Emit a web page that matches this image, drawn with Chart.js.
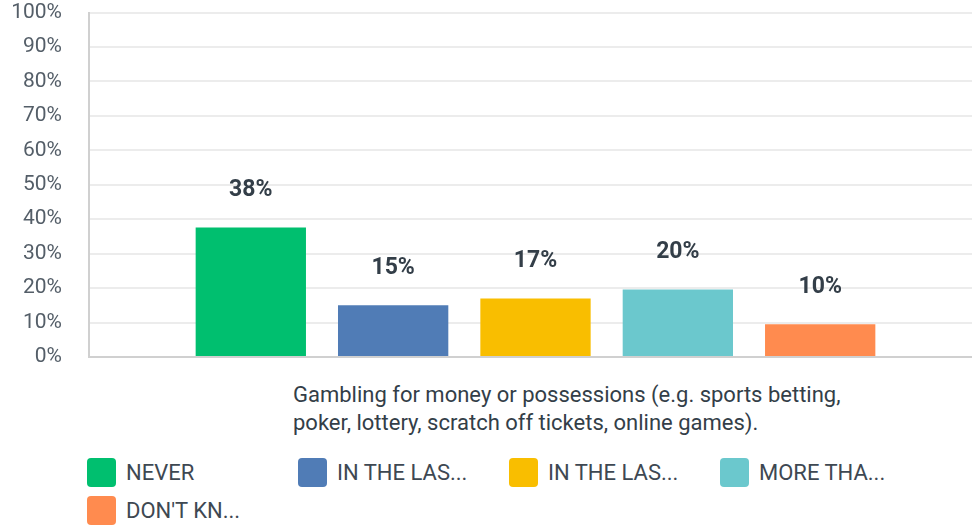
<!DOCTYPE html>
<html>
    <head>
        <script src="https://cdn.jsdelivr.net/npm/chart.js@4/dist/chart.umd.min.js"></script>
        <style>
            body { margin: 0; overflow: hidden; background: #fff; font-family: Roboto, sans-serif; }
            #wrap { position: relative; width: 982px; height: 527px; }
            #chartBox { position: absolute; left: 0; top: 0; width: 982px; height: 372px; }
            #catLabel { position: absolute; left: 293px; top: 381px; font-size: 22px; line-height: 28px; color: #333e48; white-space: nowrap; }
            #legend { position: absolute; left: 87px; top: 458px; width: 860px; display: flex; flex-wrap: wrap; }
            .item { width: 211px; height: 38px; display: flex; align-items: flex-start; }
            .box { width: 29px; height: 29px; border-radius: 4px; flex: none; }
            .txt { margin-left: 10px; font-size: 22px; line-height: 30px; color: #3e4852; white-space: nowrap; }
        </style>
    </head>
    <body>
        <div id="wrap">
            <div id="chartBox"><canvas id="myChart"></canvas></div>
            <div id="catLabel"></div>
            <div id="legend"></div>
        </div>

    <script>
        // 데이터
        const categoryLines = ['Gambling for money or possessions (e.g. sports betting,', 'poker, lottery, scratch off tickets, online games).']
        const seriesNames = ['NEVER', 'IN THE LAS...', 'IN THE LAS...', 'MORE THA...', "DON'T KN..."]
        const seriesValues = [37.6, 15.0, 17.0, 19.6, 9.5]
        const seriesColors = ['#00bf6f', '#507cb6', '#f9be00', '#6bc8cd', '#ff8b4f']
        const yTicks = [0, 10, 20, 30, 40, 50, 60, 70, 80, 90, 100]

        // 막대 위 퍼센트 표시
        const valueLabels = {
            id: 'valueLabels',
            afterDatasetsDraw(chart) {
                const ctx = chart.ctx
                ctx.save()
                ctx.font = 'bold 23px Roboto, sans-serif'
                ctx.fillStyle = '#333e48'
                ctx.textAlign = 'center'
                ctx.textBaseline = 'middle'
                chart.data.datasets.forEach((ds, i) => {
                    const bar = chart.getDatasetMeta(i).data[0]
                    ctx.fillText(Math.round(ds.data[0]) + '%', bar.x, bar.y - 37)
                })
                ctx.restore()
            }
        }

        const data = {
            labels: [categoryLines.join(' ')],
            datasets: seriesNames.map((name, i) => ({
                label: name,
                data: [seriesValues[i]],
                backgroundColor: seriesColors[i],
                barPercentage: 0.775,
                categoryPercentage: 0.797
            }))
        }

        const config = {
            type: 'bar',
            data: data,
            options: {
                responsive: true,
                maintainAspectRatio: false,
                animation: false,
                layout: { padding: { top: 11, bottom: 7, left: 0, right: 0 } },
                plugins: {
                    legend: { display: false },
                    tooltip: { enabled: false }
                },
                scales: {
                    x: {
                        ticks: { display: false },
                        grid: { display: false },
                        border: { color: '#d0d0d0', width: 2 }
                    },
                    y: {
                        min: 0,
                        max: 100,
                        afterFit: (scale) => { scale.width = 89 },
                        afterBuildTicks: (scale) => { scale.ticks = yTicks.map(v => ({ value: v })) },
                        ticks: {
                            padding: 0,
                            color: '#545e68',
                            font: { family: 'Roboto, sans-serif', size: 21 },
                            callback: (v) => v + '%'
                        },
                        // 눈금 길이로 라벨과 축 사이 간격을 만든다
                        grid: { color: '#ececec', lineWidth: 2, tickLength: 27, tickColor: 'rgba(0,0,0,0)' },
                        border: { color: '#d0d0d0', width: 2 }
                    }
                }
            },
            plugins: [valueLabels]
        }

        new Chart(document.getElementById('myChart'), config)

        // 카테고리 라벨과 범례는 HTML 로
        document.getElementById('catLabel').innerHTML = categoryLines.join('<br>')
        const legend = document.getElementById('legend')
        seriesNames.forEach((name, i) => {
            const item = document.createElement('div')
            item.className = 'item'
            item.innerHTML = '<span class="box" style="background:' + seriesColors[i] + '"></span><span class="txt"></span>'
            item.querySelector('.txt').textContent = name
            legend.appendChild(item)
        })
    </script>
    </body>
</html>
